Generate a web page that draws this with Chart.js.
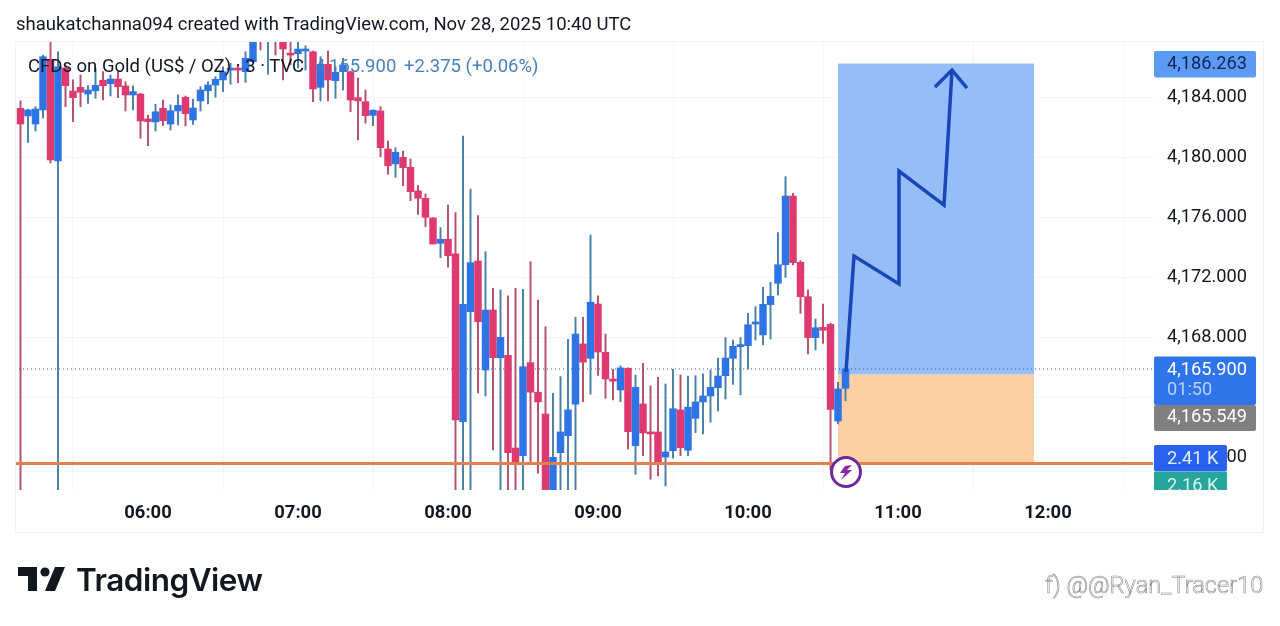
<!DOCTYPE html>
<html>
<head>
<meta charset="utf-8">
<title>CFDs on Gold</title>
<script src="https://cdn.jsdelivr.net/npm/chart.js@4/dist/chart.umd.min.js"></script>
<style>
  html, body { margin: 0; padding: 0; background: #fff; }
  #page { position: relative; width: 1280px; height: 626px; overflow: hidden; font-family: Roboto, sans-serif; }
  #grafic { position: absolute; left: 0; top: 0; }
  .txt { position: absolute; white-space: nowrap; font-size: 18.5px; line-height: 22px; }
</style>
</head>
<body>
<div id="page">
  <canvas id="grafic" width="1280" height="626"></canvas>
  <div class="txt" style="left:16px;top:13px;color:#131722">shaukatchanna094 created with TradingView.com, Nov 28, 2025 10:40 UTC</div>
  <div class="txt" style="left:28px;top:55px;color:#131722">CFDs on Gold (US$ / OZ) · 3 · TVC</div>
  <div class="txt" style="left:315px;top:55px;color:#4a80ba">4,165.900</div>
  <div class="txt" style="left:404px;top:55px;color:#4a80ba">+2.375 (+0.06%)</div>
  <div class="txt" style="left:76px;top:562px;font:600 31.5px/36px Inter, sans-serif;letter-spacing:-0.5px;color:#131722">TradingView</div>
  <div class="txt" style="left:1045px;top:570px;font:300 23.6px/30px Roboto, sans-serif;color:#fff;-webkit-text-stroke:0.6px #8a8a8a">f) @@Ryan_Tracer10</div>
</div>

<script>
// vela de 3 minuts, la primera a les 05:09
const startMinute = 309;
const stepMinutes = 3;

const opens = [
  4183.28, 4182.77, 4182.23, 4183.17, 4186.5, 4179.77, 4185.97, 4184.43, 4184.68, 4184.23,
  4184.45, 4185.15, 4184.92, 4185.23, 4184.77, 4184.17, 4184.23, 4182.57, 4182.37, 4183.28,
  4182.23, 4183.1, 4184.01, 4182.5, 4183.77, 4184.45, 4184.83, 4185.17, 4185.83, 4185.9,
  4185.72, 4186.39, 4188.4, 4188.1, 4188.5, 4187.9, 4186.95, 4186.92, 4187.1, 4187.05,
  4184.68, 4186.21, 4185.12, 4185.72, 4185.72, 4183.99, 4183.72, 4182.81, 4183.1, 4180.57,
  4179.57, 4180.01, 4179.35, 4177.77, 4177.28, 4175.97, 4174.28, 4174.55, 4173.57, 4162.39,
  4169.72, 4173.1, 4165.83, 4169.83, 4166.65, 4166.81, 4160.63, 4160.12, 4166.32, 4164.35,
  4162.9, 4157.6, 4160.32, 4161.45, 4163.55, 4167.57, 4166.61, 4170.23, 4167.01, 4165.23,
  4164.5, 4165.95, 4160.79, 4163.57, 4161.7, 4161.7, 4160.03, 4160.45, 4163.17, 4160.48,
  4162.61, 4163.7, 4164.1, 4164.65, 4165.45, 4166.61, 4167.39, 4167.45, 4168.9, 4168.17,
  4170.19, 4171.61, 4172.85, 4177.43, 4173.01, 4170.72, 4167.99, 4168.68, 4168.88, 4162.43,
  4164.61
];
const closes = [
  4182.23, 4183.17, 4183.23, 4186.72, 4179.83, 4186.05, 4184.79, 4183.99, 4184.35, 4184.5,
  4184.81, 4184.79, 4185.23, 4184.72, 4184.17, 4184.39, 4182.43, 4182.39, 4183.05, 4182.45,
  4183.12, 4183.48, 4182.92, 4183.3, 4184.5, 4184.83, 4185.21, 4185.72, 4185.9, 4185.83,
  4186.61, 4187.68, 4188.0, 4188.6, 4188.0, 4187.23, 4186.83, 4187.23, 4187.17, 4184.57,
  4186.21, 4185.17, 4185.68, 4186.17, 4183.83, 4183.77, 4182.79, 4183.15, 4180.65, 4179.45,
  4180.35, 4179.32, 4177.72, 4177.28, 4176.01, 4174.23, 4174.55, 4173.45, 4162.5, 4170.21,
  4172.99, 4169.05, 4169.83, 4166.65, 4168.01, 4160.32, 4159.61, 4166.05, 4164.35, 4163.7,
  4157.6, 4160.01, 4161.7, 4163.17, 4168.23, 4166.35, 4170.35, 4167.03, 4165.23, 4165.08,
  4165.97, 4161.72, 4164.68, 4161.63, 4161.57, 4159.57, 4160.37, 4163.25, 4160.65, 4163.35,
  4163.7, 4164.1, 4164.68, 4165.43, 4166.63, 4167.41, 4167.5, 4168.85, 4168.97, 4170.21,
  4170.75, 4172.85, 4177.43, 4172.99, 4170.72, 4167.99, 4168.65, 4168.48, 4163.21, 4164.57,
  4165.9
];
const highs = [
  4183.77, 4183.23, 4183.39, 4186.83, 4187.72, 4187.05, 4186.17, 4185.17, 4185.5, 4184.79,
  4185.97, 4185.72, 4185.5, 4185.72, 4185.05, 4184.77, 4184.28, 4182.83, 4183.55, 4183.83,
  4183.5, 4184.17, 4184.1, 4183.9, 4184.72, 4185.05, 4185.39, 4186.05, 4186.28, 4186.17,
  4187.05, 4187.83, 4188.6, 4188.8, 4188.7, 4188.1, 4187.7, 4187.72, 4187.45, 4187.1,
  4186.72, 4187.1, 4186.05, 4186.61, 4185.77, 4185.3, 4184.5, 4183.17, 4183.39, 4181.1,
  4180.65, 4180.43, 4179.9, 4178.12, 4177.57, 4175.99, 4175.32, 4176.83, 4176.32, 4181.43,
  4177.9, 4176.12, 4173.72, 4171.28, 4171.17, 4170.77, 4171.28, 4171.21, 4173.05, 4170.5,
  4168.72, 4164.28, 4165.39, 4167.88, 4169.35, 4169.35, 4174.83, 4170.77, 4168.23, 4165.88,
  4166.1, 4165.97, 4165.5, 4166.28, 4164.77, 4165.35, 4164.9, 4165.88, 4165.5, 4165.43,
  4165.45, 4165.57, 4165.83, 4166.63, 4167.99, 4167.83, 4167.99, 4169.61, 4170.05, 4171.35,
  4171.68, 4174.99, 4178.72, 4177.61, 4173.12, 4171.17, 4169.23, 4170.23, 4168.95, 4165.01,
  4165.95
];
const lows = [
  4157.5, 4181.01, 4181.77, 4182.63, 4179.63, 4157.5, 4183.39, 4182.39, 4183.39, 4183.61,
  4183.95, 4183.83, 4184.1, 4183.99, 4183.1, 4183.17, 4181.28, 4180.79, 4181.77, 4182.12,
  4181.83, 4182.17, 4182.1, 4182.21, 4183.1, 4183.57, 4184.01, 4184.39, 4184.88, 4184.99,
  4185.01, 4186.3, 4187.17, 4185.55, 4186.83, 4185.17, 4186.17, 4185.97, 4185.83, 4183.72,
  4183.77, 4183.77, 4183.95, 4184.5, 4183.05, 4181.17, 4182.28, 4182.12, 4180.05, 4178.88,
  4178.68, 4178.12, 4177.12, 4176.21, 4175.39, 4174.23, 4173.32, 4172.68, 4157.5, 4157.5,
  4157.5, 4164.3, 4164.1, 4160.5, 4157.5, 4157.5, 4157.5, 4157.5, 4159.72, 4158.95,
  4157.3, 4157.3, 4157.5, 4157.5, 4157.5, 4163.72, 4164.21, 4165.47, 4163.95, 4163.83,
  4163.72, 4160.57, 4158.88, 4160.12, 4158.55, 4158.77, 4158.1, 4159.95, 4160.12, 4160.12,
  4161.65, 4161.57, 4162.35, 4163.1, 4163.9, 4164.87, 4164.17, 4165.88, 4167.83, 4167.5,
  4167.9, 4170.83, 4172.01, 4172.83, 4169.61, 4166.9, 4167.17, 4167.61, 4159.17, 4162.23,
  4163.77
];

// marques d'eixos
const hourTicks = [360, 420, 480, 540, 600, 660, 720];
const priceTicks = [4160, 4164, 4168, 4172, 4176, 4180, 4184];

// posicio llarga
const targetPrice = 4186.263;
const entryPrice = 4165.549;
const stopPrice = 4159.6;
const lastPrice = 4165.9;
const boxMinutes = [636, 714.4];
const eventMinute = 639.2;
const eventPrice = 4159.03;

// fletxa dibuixada a ma
const arrowMinutes = [639.2, 642.4, 660.4, 660.4, 678.4, 681.6];
const arrowPrices = [4165.7, 4173.43, 4171.57, 4179.1, 4176.83, 4185.83];
const headMinutes = [674.8, 681.6, 687.6];
const headPrices = [4184.7, 4185.83, 4184.63];

const xMin = 306.8;
const xMax = 762;
const yMin = 4157.83;
const yMax = 4187.7;

const upColor = '#2f74e4';
const downColor = '#df3a70';
const upWick = '#4a7fa8';
const downWick = '#b4506f';

const times = opens.map((_, i) => startMinute + i * stepMinutes);
const isUp = i => closes[i] >= opens[i];
const priceText = v => v.toLocaleString('en-US', { minimumFractionDigits: 3, maximumFractionDigits: 3 });
const hourText = m => String(m / 60).padStart(2, '0') + ':00';
const zip = (xs, ys) => xs.map((x, i) => ({ x: x, y: ys[i] }));
const level = (a, b, y) => [{ x: a, y: y }, { x: b, y: y }];

// etiquetes de l'eix de preus, per sobre de tot
const priceTags = {
  id: 'priceTags',
  afterDraw(chart) {
    const c = chart.ctx;
    const y = chart.scales.y;
    const left = chart.chartArea.right + 1;
    const tag = (top, bottom, width, color) => {
      c.fillStyle = color;
      c.beginPath();
      c.roundRect(left, top, width, bottom - top, 2);
      c.fill();
    };
    const label = (text, pos, color) => { c.fillStyle = color; c.fillText(text, 1167, pos); };

    c.save();

    // marc del panell
    c.strokeStyle = '#f1f2f6';
    c.lineWidth = 1;
    c.strokeRect(15.5, 41.5, 1248, 491);

    // icona de l'esdeveniment
    const ex = chart.scales.x.getPixelForValue(eventMinute);
    const ey = y.getPixelForValue(eventPrice);
    c.fillStyle = '#8a24a8';
    c.beginPath();
    c.moveTo(ex + 6, ey - 7);
    c.lineTo(ex - 1, ey - 6);
    c.lineTo(ex - 6, ey + 1);
    c.lineTo(ex - 1, ey + 1);
    c.lineTo(ex - 5, ey + 8);
    c.lineTo(ex + 6, ey - 2);
    c.lineTo(ex + 1, ey - 2);
    c.closePath();
    c.fill();

    c.font = '18.2px Roboto';
    c.textAlign = 'left';
    c.textBaseline = 'middle';

    const t = y.getPixelForValue(targetPrice);
    tag(t - 12.5, t + 14, 102, '#5c9bf4');
    label(priceText(targetPrice), t + 1, '#10245c');

    const l = y.getPixelForValue(lastPrice);
    tag(l - 12.5, l + 36, 102, '#2f74e8');
    label(priceText(lastPrice), l + 1, '#ffffff');
    label('01:50', l + 21, '#b9d2fa');

    tag(l + 36, l + 62, 102, '#808080');
    label(priceText(entryPrice), l + 48.5, '#ffffff');

    const s = y.getPixelForValue(stopPrice);
    tag(s - 18.5, s + 8, 73, '#2a62f0');
    label('2.41 K', s - 4, '#e4ecff');

    c.beginPath();
    c.rect(left, s + 8, 73, chart.chartArea.bottom - s - 8);
    c.clip();
    c.fillStyle = '#26a69a';
    c.fillRect(left, s + 8, 73, 27);
    label('2.16 K', s + 23, '#d8f3ef');
    c.restore();

    // logotip
    c.save();
    c.fillStyle = '#131722';
    c.fillRect(18, 567, 19, 9);
    c.fillRect(28, 567, 9, 24);
    c.beginPath();
    c.arc(45, 572, 4.6, 0, Math.PI * 2);
    c.fill();
    c.beginPath();
    c.moveTo(55, 567);
    c.lineTo(65, 567);
    c.lineTo(55, 591);
    c.lineTo(45, 591);
    c.closePath();
    c.fill();
    c.restore();
  }
};

new Chart(document.getElementById('grafic'), {
  type: 'bar',
  data: {
    datasets: [
      { type: 'line', data: level(boxMinutes[0], boxMinutes[1], targetPrice), fill: { value: entryPrice }, backgroundColor: '#95bdf8', borderWidth: 0, pointRadius: 0, order: 8 },
      { type: 'line', data: level(boxMinutes[0], boxMinutes[1], entryPrice), fill: { value: stopPrice }, backgroundColor: '#fdd0a4', borderWidth: 0, pointRadius: 0, order: 8 },
      { type: 'line', data: level(xMin, xMax, lastPrice), borderColor: '#2a66c8', borderWidth: 1, borderDash: [1, 3], pointRadius: 0, order: 7 },
      {
        label: 'wicks',
        data: times.map((x, i) => ({ x: x, y: [lows[i], highs[i]] })),
        backgroundColor: times.map((_, i) => isUp(i) ? upWick : downWick),
        barThickness: 1.3,
        grouped: false,
        order: 5
      },
      {
        label: 'bodies',
        data: times.map((x, i) => ({ x: x, y: [opens[i], closes[i]] })),
        backgroundColor: times.map((_, i) => isUp(i) ? upColor : downColor),
        barThickness: 6.8,
        minBarLength: 2,
        grouped: false,
        order: 4
      },
      { type: 'line', data: level(xMin, xMax, stopPrice), borderColor: '#e2814a', borderWidth: 3, pointRadius: 0, order: 3 },
      { type: 'line', data: zip(arrowMinutes, arrowPrices), borderColor: '#1a47b8', borderWidth: 3.5, pointRadius: 0, tension: 0, order: 2 },
      { type: 'line', data: zip(headMinutes, headPrices), borderColor: '#1a47b8', borderWidth: 3.5, pointRadius: 0, tension: 0, order: 2 },
      { type: 'line', data: [{ x: eventMinute, y: eventPrice }], showLine: false, pointRadius: 14.5, pointBorderWidth: 3, pointBorderColor: '#6d2a9e', pointBackgroundColor: '#ffffff', order: 1 }
    ]
  },
  options: {
    responsive: false,
    animation: false,
    layout: { autoPadding: false, padding: { left: 15, top: 42, right: 0, bottom: 0 } },
    plugins: { legend: { display: false }, tooltip: { enabled: false } },
    scales: {
      x: {
        type: 'linear',
        min: xMin,
        max: xMax,
        offset: false,
        afterBuildTicks: s => { s.ticks = hourTicks.map(v => ({ value: v })); },
        afterFit: s => { s.height = 136; s.paddingLeft = 0; s.paddingRight = 0; },
        grid: { color: '#f4f5f8', drawTicks: false },
        border: { display: false },
        ticks: {
          autoSkip: false,
          maxRotation: 0,
          padding: 12,
          color: '#131722',
          font: { family: 'Roboto', size: 18.4, weight: 'bold' },
          callback: v => hourText(v)
        }
      },
      y: {
        position: 'right',
        min: yMin,
        max: yMax,
        afterBuildTicks: s => { s.ticks = priceTicks.map(v => ({ value: v })); },
        afterFit: s => { s.width = 127; s.paddingTop = 0; s.paddingBottom = 0; },
        grid: { color: '#f4f5f8', drawTicks: false },
        border: { display: false },
        ticks: {
          padding: 14,
          color: '#131722',
          font: { family: 'Roboto', size: 18.2 },
          callback: v => priceText(v)
        }
      }
    }
  },
  plugins: [priceTags]
});
</script>
</body>
</html>
